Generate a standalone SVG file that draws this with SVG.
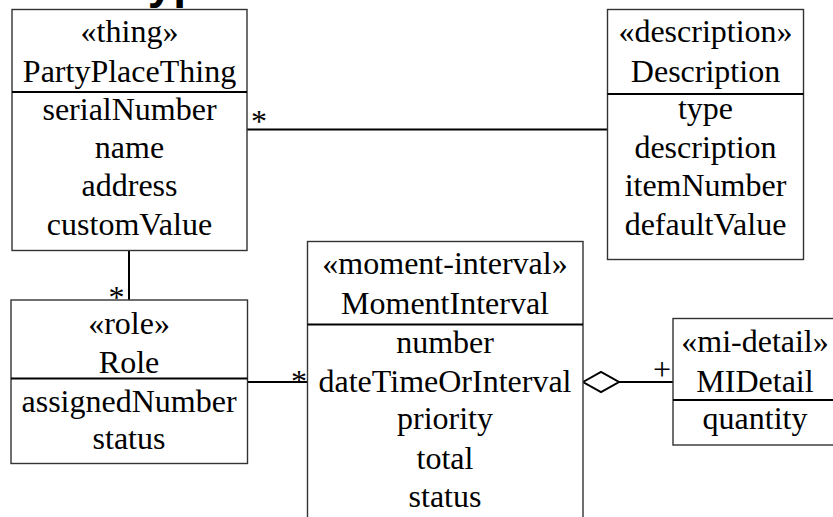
<svg xmlns="http://www.w3.org/2000/svg" width="833" height="517" viewBox="0 0 833 517">
<style>
.box{fill:#fff;stroke:#333;stroke-width:1.4}
.div{stroke:#000;stroke-width:2}
.t{font-family:"Liberation Serif","Times New Roman",serif;font-size:32px;fill:#000;text-anchor:middle}
.c{stroke:#000;stroke-width:2;fill:none}
.title{font-family:"Liberation Sans",Arial,sans-serif;font-size:46px;font-weight:bold;fill:#000}
</style>
<rect width="833" height="517" fill="#fff"/>
<text class="title" x="2" y="-2">Archetypes</text>
<g id="connectors">
<line class="c" x1="247" y1="129.5" x2="607.5" y2="129.5"/>
<text class="t" x="259" y="132">*</text>
<line class="c" x1="129" y1="250.5" x2="129" y2="300"/>
<text class="t" x="116.5" y="308">*</text>
<line class="c" x1="247.5" y1="382" x2="307.5" y2="382"/>
<text class="t" x="299" y="392">*</text>
<polygon class="c" points="583,382 601,372 619,382 601,392" fill="#fff"/>
<line class="c" x1="619" y1="382" x2="673" y2="382"/>
<text class="t" x="662" y="380">+</text>
</g>
<g id="PartyPlaceThing">
<rect class="box" x="12" y="9.5" width="235" height="241"/>
<line class="div" x1="12" y1="92" x2="247" y2="92"/>
<text class="t" x="129.5" y="42">«thing»</text>
<text class="t" x="129.5" y="81.5">PartyPlaceThing</text>
<text class="t" x="129.5" y="119.5">serialNumber</text>
<text class="t" x="129.5" y="157.5">name</text>
<text class="t" x="129.5" y="196">address</text>
<text class="t" x="129.5" y="235">customValue</text>
</g>
<g id="Description">
<rect class="box" x="607.5" y="9.5" width="196" height="250"/>
<line class="div" x1="607.5" y1="94" x2="803.5" y2="94"/>
<text class="t" x="705.5" y="42">«description»</text>
<text class="t" x="705.5" y="81.5">Description</text>
<text class="t" x="705.5" y="119">type</text>
<text class="t" x="705.5" y="157.5">description</text>
<text class="t" x="705.5" y="196">itemNumber</text>
<text class="t" x="705.5" y="235">defaultValue</text>
</g>
<g id="Role">
<rect class="box" x="11" y="300" width="236.5" height="163.5"/>
<line class="div" x1="11" y1="378.5" x2="247.5" y2="378.5"/>
<text class="t" x="129" y="334">«role»</text>
<text class="t" x="129" y="373">Role</text>
<text class="t" x="129" y="412">assignedNumber</text>
<text class="t" x="129" y="449">status</text>
</g>
<g id="MomentInterval">
<rect class="box" x="307.5" y="241.5" width="275.5" height="300"/>
<line class="div" x1="307.5" y1="324.5" x2="583" y2="324.5"/>
<text class="t" x="445" y="273.5">«moment-interval»</text>
<text class="t" x="445" y="314">MomentInterval</text>
<text class="t" x="445" y="352.5">number</text>
<text class="t" x="445" y="391.5">dateTimeOrInterval</text>
<text class="t" x="445" y="429">priority</text>
<text class="t" x="445" y="468.5">total</text>
<text class="t" x="445" y="507">status</text>
</g>
<g id="MIDetail">
<rect class="box" x="673" y="318.5" width="200" height="126.5"/>
<line class="div" x1="673" y1="400" x2="873" y2="400"/>
<text class="t" x="755" y="352">«mi-detail»</text>
<text class="t" x="755" y="392">MIDetail</text>
<text class="t" x="755" y="429">quantity</text>
</g>
</svg>
